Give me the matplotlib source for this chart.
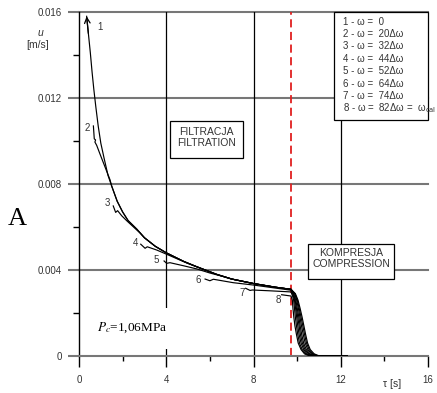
import matplotlib
matplotlib.use("Agg")
import matplotlib.pyplot as plt
from matplotlib.patches import Rectangle

plt.rcParams['font.family'] = ['Liberation Sans', 'DejaVu Sans']
plt.rcParams['mathtext.fontset'] = 'stix'

# --- axis ticks ---
x_major = [0, 4, 8, 12, 16]
x_minor = [2, 6, 10, 14]
y_major = [0, 0.004, 0.008, 0.012, 0.016]
y_minor = [0.002, 0.006, 0.010, 0.014]
y_labels = ["0", "0.004", "0.008", "0.012", "0.016"]
x_grid = [4, 8, 12]

# --- common filtration curve (curve 1) ---
filt_t = [0.35, 0.43, 0.52, 0.60, 0.68, 0.77, 0.88, 1.0, 1.15, 1.33, 1.5, 1.75,
          2.0, 2.25, 2.65, 3.0, 3.5, 4.0, 4.8, 5.4, 6.3, 7.0, 8.0, 9.0, 9.72]
filt_u = [0.0158, 0.0150, 0.0141, 0.0132, 0.0124, 0.0116, 0.0107, 0.0099, 0.0092,
          0.0084, 0.0079, 0.0072, 0.0067, 0.0063, 0.0059, 0.0055, 0.0051, 0.0048,
          0.0044, 0.00415, 0.0038, 0.00358, 0.00337, 0.0032, 0.0031]

# --- start segments of curves 2..8 (before they join curve 1) ---
start_t = [
    [],
    [0.66, 0.70, 0.76, 0.73, 0.81, 0.96, 1.19, 1.42],
    [1.57, 1.68, 1.77, 1.96, 2.2, 2.5, 2.8],
    [2.83, 3.03, 3.13, 3.56, 4.0, 4.5, 5.0],
    [3.90, 4.02, 4.17, 4.78, 5.4, 6.0, 6.6],
    [5.78, 6.0, 6.16, 7.07, 8.0, 9.0, 9.72],
    [7.64, 7.84, 7.95, 8.8, 9.72],
    [9.29, 9.5, 9.72],
]
start_u = [
    [],
    [0.0107, 0.0101, 0.01005, 0.00995, 0.0098, 0.0094, 0.0088, 0.0082],
    [0.00698, 0.00668, 0.00676, 0.00652, 0.00628, 0.0060, 0.00572],
    [0.0052, 0.00501, 0.00508, 0.00493, 0.00474, 0.00452, 0.0043],
    [0.00442, 0.00431, 0.00434, 0.00420, 0.00405, 0.00386, 0.0037],
    [0.00358, 0.0035, 0.00357, 0.00341, 0.0033, 0.00316, 0.00306],
    [0.00315, 0.00305, 0.00307, 0.00303, 0.00298],
    [0.00285, 0.00282, 0.00279],
]

# --- compression drop of each curve ---
drop_t = [
    [9.80, 9.92, 10.04, 10.14, 10.23, 10.31, 10.39, 10.48, 10.60, 10.78, 11.02, 12.3],
    [9.79, 9.90, 10.01, 10.10, 10.18, 10.26, 10.34, 10.43, 10.55, 10.72, 10.96, 12.3],
    [9.78, 9.88, 9.98, 10.06, 10.13, 10.20, 10.28, 10.37, 10.49, 10.66, 10.90, 12.3],
    [9.77, 9.85, 9.94, 10.01, 10.08, 10.14, 10.21, 10.30, 10.42, 10.59, 10.84, 12.3],
    [9.76, 9.83, 9.91, 9.97, 10.03, 10.09, 10.15, 10.24, 10.36, 10.53, 10.78, 12.3],
    [9.75, 9.81, 9.88, 9.93, 9.98, 10.03, 10.09, 10.18, 10.30, 10.46, 10.72, 12.3],
    [9.74, 9.79, 9.84, 9.88, 9.92, 9.97, 10.03, 10.11, 10.23, 10.40, 10.65, 12.3],
    [9.73, 9.75, 9.78, 9.81, 9.85, 9.90, 9.97, 10.05, 10.18, 10.34, 10.58, 12.3],
]
drop_u = [
    [0.00302, 0.00290, 0.0026, 0.0022, 0.0018, 0.0014, 0.0010, 0.0006, 0.0003, 0.0001, 0.0, 0.0],
    [0.00302, 0.00290, 0.0026, 0.0022, 0.0018, 0.0014, 0.0010, 0.0006, 0.0003, 0.0001, 0.0, 0.0],
    [0.00302, 0.00290, 0.0026, 0.0022, 0.0018, 0.0014, 0.0010, 0.0006, 0.0003, 0.0001, 0.0, 0.0],
    [0.00300, 0.00288, 0.0026, 0.0022, 0.0018, 0.0014, 0.0010, 0.0006, 0.0003, 0.0001, 0.0, 0.0],
    [0.00300, 0.00286, 0.0026, 0.0022, 0.0018, 0.0014, 0.0010, 0.0006, 0.0003, 0.0001, 0.0, 0.0],
    [0.00298, 0.00284, 0.0026, 0.0022, 0.0018, 0.0014, 0.0010, 0.0006, 0.0003, 0.0001, 0.0, 0.0],
    [0.00292, 0.00280, 0.0026, 0.0022, 0.0018, 0.0014, 0.0010, 0.0006, 0.0003, 0.0001, 0.0, 0.0],
    [0.00276, 0.00270, 0.0026, 0.0022, 0.0018, 0.0014, 0.0010, 0.0006, 0.0003, 0.0001, 0.0, 0.0],
]

# curve number labels
lab_text = ["1", "2", "3", "4", "5", "6", "7", "8"]
lab_t = [0.96, 0.36, 1.28, 2.61, 3.56, 5.47, 7.46, 9.14]
lab_u = [0.0153, 0.0106, 0.00712, 0.00524, 0.00447, 0.00353, 0.00294, 0.0026]

legend_lines = ["1 - ω =  0", "2 - ω =  20Δω", "3 - ω =  32Δω", "4 - ω =  44Δω",
                "5 - ω =  52Δω", "6 - ω =  64Δω", "7 - ω =  74Δω",
                "8 - ω =  82Δω =  ω$_{\\mathrm{cal}}$"]

t_compr = 9.7

fig = plt.figure(figsize=(4.37, 3.93), dpi=100)
ax = fig.add_axes([79/437, 37/393, 349/437, 344/393])
ax.set_xlim(0, 16)
ax.set_ylim(0, 0.016)

for s in ["top", "right"]:
    ax.spines[s].set_visible(False)
ax.spines["left"].set_color("black")
ax.spines["left"].set_linewidth(1.0)
ax.spines["bottom"].set_color("#777777")
ax.spines["bottom"].set_linewidth(1.5)

ax.set_xticks(x_major)
ax.set_xticks(x_minor, minor=True)
ax.set_yticks(y_major)
ax.set_yticks(y_minor, minor=True)
ax.set_yticklabels(y_labels)
ax.tick_params(axis="x", which="major", length=7.9, width=1.0, color="black", pad=6, labelsize=7, labelcolor="#333333")
ax.tick_params(axis="x", which="minor", length=3.6, width=1.0, color="black")
ax.tick_params(axis="y", which="major", length=7.9, width=1.5, color="#777777", pad=4.3, labelsize=7, labelcolor="#333333")
ax.tick_params(axis="y", which="minor", length=4.3, width=1.0, color="black")

# grid
for v in y_major[1:]:
    ax.axhline(v, color="#777777", lw=1.5, zorder=1, clip_on=False)
for v in x_grid:
    ax.axvline(v, color="black", lw=0.9, zorder=1)

ax.axvline(t_compr, color="#e02020", lw=1.3, ls=(0, (4.5, 2.5)), zorder=2)

# curves
for k in range(8):
    if k == 0:
        t = filt_t[:]
        u = filt_u[:]
    else:
        last = start_t[k][-1]
        t = start_t[k] + [a for a in filt_t if a > last]
        u = start_u[k] + [b for a, b in zip(filt_t, filt_u) if a > last]
    t = t + drop_t[k]
    u = u + drop_u[k]
    ax.plot(t, u, color="black", lw=0.85, zorder=4)

ax.annotate("", xy=(filt_t[0], filt_u[0]), xytext=(filt_t[1], filt_u[1]),
            arrowprops=dict(arrowstyle="->", lw=0.9, color="black", shrinkA=0, shrinkB=0), zorder=4)

for s, a, b in zip(lab_text, lab_t, lab_u):
    ax.text(a, b, s, fontsize=7, color="#333333", ha="center", va="center", zorder=5)

# boxes
ax.add_patch(Rectangle((4.17, 0.00920), 3.35, 0.00175, fc="white", ec="black", lw=0.9, zorder=3))
ax.text(5.85, 0.01043, "FILTRACJA", fontsize=7.5, ha="center", va="center", color="#333333", zorder=5)
ax.text(5.85, 0.00992, "FILTRATION", fontsize=7.5, ha="center", va="center", color="#333333", zorder=5)

ax.add_patch(Rectangle((10.48, 0.00357), 3.98, 0.00164, fc="white", ec="black", lw=0.9, zorder=3))
ax.text(12.47, 0.00478, "KOMPRESJA", fontsize=7.5, ha="center", va="center", color="#333333", zorder=5)
ax.text(12.47, 0.00427, "COMPRESSION", fontsize=7.5, ha="center", va="center", color="#333333", zorder=5)

ax.add_patch(Rectangle((11.69, 0.01098), 4.31, 0.00502, fc="white", ec="black", lw=0.9, zorder=3, clip_on=False))
for i, s in enumerate(legend_lines):
    ax.text(12.09, 0.01555 - i * 0.000577, s, fontsize=7, ha="left", va="center", color="#333333",
            zorder=5, math_fontfamily="dejavusans")

ax.text(0.82, 0.0013, "$P_c$=1,06MPa", fontsize=9.5, family="Liberation Serif", ha="left", va="center",
        zorder=5, bbox=dict(boxstyle="square,pad=1.0", fc="white", ec="none"))

fig.text(40/437, 1 - 33/393, "u", fontsize=7.5, style="italic", ha="center", va="center", color="#333333")
fig.text(38/437, 1 - 45/393, "[m/s]", fontsize=7.5, ha="center", va="center", color="#333333")
fig.text(392/437, 1 - 384/393, "τ [s]", fontsize=7.5, ha="center", va="center", color="#333333")
fig.text(17/437, 1 - 219/393, "A", fontsize=19, family="Liberation Serif", ha="center", va="center")

fig.savefig("out.png", dpi=100)
